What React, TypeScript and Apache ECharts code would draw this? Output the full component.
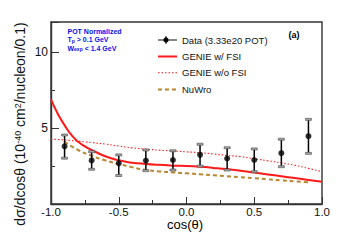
import React, { useEffect, useRef } from "react";
import * as echarts from "echarts";

const dataX = [-0.9, -0.7, -0.5, -0.3, -0.1, 0.1, 0.3, 0.5, 0.7, 0.9];
const dataY = [3.8, 2.87, 2.68, 2.86, 2.9, 3.24, 3.0, 2.9, 3.35, 4.47];
const dataLow = [3.02, 2.29, 1.88, 2.2, 2.24, 2.5, 2.24, 2.13, 2.46, 3.34];
const dataHigh = [4.55, 3.45, 3.24, 3.56, 3.51, 3.94, 3.71, 3.63, 4.27, 5.58];

const genieX = [-1.0, -0.95, -0.9, -0.85, -0.8, -0.75, -0.7, -0.6, -0.5, -0.4, -0.3, -0.2, -0.1, 0.0, 0.1, 0.2, 0.3, 0.4, 0.5, 0.6, 0.7, 0.8, 0.9, 1.0];
const genieFsi = [6.9, 5.95, 5.2, 4.55, 4.1, 3.8, 3.56, 3.15, 2.88, 2.72, 2.64, 2.58, 2.53, 2.5, 2.45, 2.38, 2.3, 2.2, 2.07, 1.95, 1.83, 1.71, 1.59, 1.47];
const genieNoFsi = [4.28, 4.25, 4.22, 4.18, 4.14, 4.1, 4.05, 3.95, 3.82, 3.7, 3.62, 3.55, 3.5, 3.44, 3.38, 3.3, 3.2, 3.12, 2.98, 2.85, 2.71, 2.55, 2.35, 2.13];

const nuwroX = [-0.9, -0.8, -0.7, -0.6, -0.5, -0.4, -0.3, -0.2, -0.1, 0.0, 0.1, 0.2, 0.3, 0.4, 0.5, 0.6, 0.7, 0.8, 0.9];
const nuwroY = [4.1, 3.56, 3.18, 2.88, 2.64, 2.42, 2.25, 2.15, 2.08, 2.02, 1.96, 1.9, 1.83, 1.76, 1.7, 1.63, 1.56, 1.5, 1.43];

const legendNames = ["Data (3.33e20 POT)", "GENIE w/ FSI", "GENIE w/o FSI", "NuWro"];
const xAxisTitle = "cos(θ)";

const FONT = "'Liberation Sans', Arial, Helvetica, sans-serif";
const RED = "#ff1a1a";
const BROWN = "#b8862e";

export default function App() {
  const ref = useRef<HTMLDivElement>(null);
  useEffect(() => {
    if (!ref.current) return;
    const chart = echarts.init(ref.current, null, { renderer: "svg" });
    const zip = (xs: number[], ys: number[]) => xs.map((x, i) => [x, ys[i]]);
    const errData = dataX.map((x, i) => [x, dataLow[i], dataHigh[i]]);
    const legY = [40, 56.5, 72.8, 89.5];
    const option: any = {
      animation: false,
      backgroundColor: "#ffffff",
      textStyle: { fontFamily: FONT },
      grid: {
        left: 51, right: 17, top: 22, bottom: 37,
        show: true, borderColor: "#333", borderWidth: 1.4, backgroundColor: "transparent",
      },
      xAxis: {
        type: "value", min: -1, max: 1, interval: 0.5,
        axisLine: { show: true, onZero: false, lineStyle: { color: "#333", width: 1.4 } },
        axisTick: { show: true, inside: true, length: 7, lineStyle: { color: "#333", width: 1 } },
        minorTick: { show: true, splitNumber: 2, length: 4, lineStyle: { color: "#333", width: 1 } },
        splitLine: { show: false },
        axisLabel: { fontSize: 11.5, color: "#111", margin: 2, fontFamily: FONT, formatter: (v: number) => v.toFixed(1) },
      },
      yAxis: {
        type: "value", min: 0, max: 12, interval: 5,
        axisLine: { show: true, onZero: false, lineStyle: { color: "#333", width: 1.4 } },
        axisTick: { show: true, inside: true, length: 8, lineStyle: { color: "#333", width: 1 } },
        minorTick: { show: true, splitNumber: 2, length: 4, lineStyle: { color: "#333", width: 1 } },
        splitLine: { show: false },
        axisLabel: { fontSize: 12, color: "#111", margin: 3, fontFamily: FONT, showMaxLabel: false, formatter: (v: number) => (v === 0 ? "" : String(v)) },
      },
      series: [
        {
          type: "line", name: legendNames[2], data: zip(genieX, genieNoFsi), showSymbol: false, smooth: true,
          lineStyle: { color: RED, width: 1.1, type: [1.5, 2] }, z: 2,
        },
        {
          type: "line", name: legendNames[3], data: zip(nuwroX, nuwroY), showSymbol: false, smooth: true,
          lineStyle: { color: BROWN, width: 2, type: [4, 3] }, z: 2,
        },
        {
          type: "line", name: legendNames[1], data: zip(genieX, genieFsi), showSymbol: false, smooth: true,
          lineStyle: { color: RED, width: 2 }, z: 3,
        },
        {
          type: "custom", name: "err", data: errData, z: 4,
          renderItem: (params: any, api: any) => {
            const x = api.value(0);
            const lo = api.coord([x, api.value(1)]);
            const hi = api.coord([x, api.value(2)]);
            const w = 3;
            return {
              type: "group",
              children: [
                { type: "line", shape: { x1: lo[0], y1: lo[1], x2: hi[0], y2: hi[1] }, style: { stroke: "#000", lineWidth: 1.5 } },
                { type: "rect", shape: { x: lo[0] - w, y: lo[1] - 1, width: 2 * w, height: 2 }, style: { fill: "#aaa", stroke: "#444", lineWidth: 0.6 } },
                { type: "rect", shape: { x: hi[0] - w, y: hi[1] - 1, width: 2 * w, height: 2 }, style: { fill: "#aaa", stroke: "#444", lineWidth: 0.6 } },
              ],
            };
          },
        },
        {
          type: "scatter", name: legendNames[0], data: zip(dataX, dataY), symbol: "circle", symbolSize: 6,
          itemStyle: { color: "#000" }, z: 5,
        },
      ],
      graphic: [
        {
          type: "text", x: 20, y: 124, rotation: Math.PI / 2,
          style: {
            text: "dσ/dcosθ (10{sup|-40} cm{sup|2}/nucleon/0.1)",
            fontSize: 14, fontFamily: FONT, fill: "#111", align: "center", verticalAlign: "middle",
            rich: { sup: { fontSize: 9, verticalAlign: "top", fontFamily: FONT, fill: "#111" } },
          },
        },
        { type: "text", x: 185, y: 224, style: { text: xAxisTitle, fontSize: 13, fontFamily: FONT, fill: "#000", align: "center", verticalAlign: "middle" } },
        { type: "text", x: 67.5, y: 31, style: { text: "POT Normalized", fontSize: 7, fontWeight: "bold", fontFamily: FONT, fill: "#0a10f0", verticalAlign: "middle" } },
        {
          type: "text", x: 67.5, y: 39.5,
          style: { text: "T{sub|p} > 0.1 GeV", fontSize: 7, fontWeight: "bold", fontFamily: FONT, fill: "#0a10f0", verticalAlign: "middle",
            rich: { sub: { fontSize: 5, fontWeight: "bold", verticalAlign: "bottom", fill: "#0a10f0", fontFamily: FONT } } },
        },
        {
          type: "text", x: 67.5, y: 48,
          style: { text: "W{sub|exp} < 1.4 GeV", fontSize: 7, fontWeight: "bold", fontFamily: FONT, fill: "#0a10f0", verticalAlign: "middle",
            rich: { sub: { fontSize: 5, fontWeight: "bold", verticalAlign: "bottom", fill: "#0a10f0", fontFamily: FONT } } },
        },
        { type: "text", x: 294, y: 35, style: { text: "(a)", fontSize: 9, fontWeight: "bold", fontFamily: FONT, fill: "#000", align: "center", verticalAlign: "middle" } },
        // legend
        { type: "line", shape: { x1: 158, y1: legY[0], x2: 177, y2: legY[0] }, style: { stroke: "#111", lineWidth: 1 } },
        { type: "line", shape: { x1: 166, y1: legY[0] - 4, x2: 166, y2: legY[0] + 4 }, style: { stroke: "#111", lineWidth: 1 } },
        { type: "circle", shape: { cx: 166, cy: legY[0], r: 2.6 }, style: { fill: "#000" } },
        { type: "line", shape: { x1: 158, y1: legY[1], x2: 177, y2: legY[1] }, style: { stroke: RED, lineWidth: 2 } },
        { type: "line", shape: { x1: 158, y1: legY[2], x2: 177, y2: legY[2] }, style: { stroke: RED, lineWidth: 1.1, lineDash: [1.5, 2] } },
        { type: "line", shape: { x1: 158, y1: legY[3], x2: 177, y2: legY[3] }, style: { stroke: BROWN, lineWidth: 2, lineDash: [4, 3] } },
        ...legendNames.map((n, i) => ({
          type: "text", x: 182, y: legY[i],
          style: { text: n, fontSize: 9.5, fontFamily: FONT, fill: "#111", verticalAlign: "middle" },
        })),
      ],
    };
    chart.setOption(option);
    return () => chart.dispose();
  }, []);
  return <div ref={ref} style={{ width: 339, height: 241, margin: -8 }} />;
}
